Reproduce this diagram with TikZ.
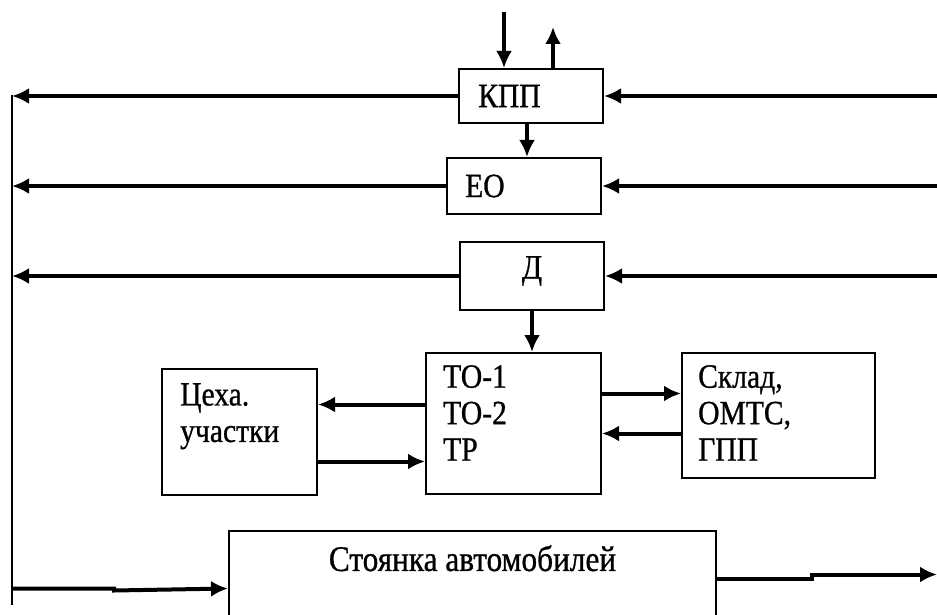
\documentclass[tikz,border=0pt]{standalone}
\usepackage{fontspec}
\setmainfont{Liberation Serif}
\newfontfamily\tnr{Liberation Serif}[FakeStretch=0.87, FakeBold=0.8]
\usetikzlibrary{arrows.meta, positioning}

\tikzset{
	blok/.style={draw, line width=2pt, inner sep=0pt, anchor=north west},
	txt/.style={inner sep=0pt, font=\tnr\fontsize{34}{36.5}\selectfont, align=left},
	arr/.style={line width=4pt, -{Latex[length=17pt,width=16pt]}},
	bus/.style={line width=2.2pt}
}

\begin{document}
\begin{tikzpicture}[x=1pt,y=-1pt]
	\useasboundingbox (0,0) rectangle (937,615);
	% blocks
	\node[blok, minimum width=144pt, minimum height=54pt] (kpp) at (458,68) {};
	\node[blok, minimum width=154pt, minimum height=56pt] (eo) at (446,157) {};
	\node[blok, minimum width=144pt, minimum height=68pt] (d) at (459,241) {};
	\node[blok, minimum width=175pt, minimum height=141pt] (to) at (425,352) {};
	\node[blok, minimum width=155pt, minimum height=126pt] (ceh) at (161,368) {};
	\node[blok, minimum width=193pt, minimum height=125pt] (sklad) at (681,352) {};
	\node[blok, minimum width=487pt, minimum height=95pt] (stoyanka) at (228,530) {};
	% texts
	\node[txt, right=20pt of kpp.west] {КПП};
	\node[txt, right=19pt of eo.west] {ЕО};
	\node[txt] at ([yshift=5pt]d.center) {Д};
	\node[txt, below right=13pt and 18pt of to.north west] {ТО-1\\ТО-2\\ТР};
	\node[txt, below right=15pt and 19pt of ceh.north west] {Цеха.\\участки};
	\node[txt, below right=13pt and 17pt of sklad.north west] {Склад,\\ОМТС,\\ГПП};
	\node[txt, font=\tnr\fontsize{36}{40}\selectfont, below=15pt of stoyanka.north] {Стоянка автомобилей};
	% left bus and right edge
	\coordinate (lt) at (12,95);
	\coordinate (lb) at (12,605);
	\coordinate (re) at (937,0);
	\draw[bus] (lt) -- (lb);
	% top of КПП
	\coordinate (vhod) at (504,12);
	\coordinate (vyhod) at (553,27);
	\draw[arr] (vhod) -- (vhod |- kpp.north);
	\draw[arr] (vyhod |- kpp.north) -- (vyhod);
	% rows to the left bus and from the right
	\foreach \b in {kpp, eo, d} {
		\draw[arr] (\b.west) -- (\b.west -| lt);
		\draw[arr] (\b.east -| re) -- (\b.east);
	}
	% chain down
	\coordinate (k1) at ([xshift=-4pt]kpp.south);
	\draw[arr] (k1) -- (k1 |- eo.north);
	\draw[arr] (d.south) -- (d.south |- to.north);
	% ТО and Цеха
	\coordinate (t1) at ([yshift=19pt]to.west);
	\coordinate (t2) at ([yshift=-38pt]to.west);
	\draw[arr] (t1) -- (t1 -| ceh.east);
	\draw[arr] (t2 -| ceh.east) -- (t2);
	% ТО and Склад
	\coordinate (t3) at ([yshift=30pt]to.east);
	\coordinate (t4) at ([yshift=-10pt]to.east);
	\draw[arr] (t3) -- (t3 -| sklad.west);
	\draw[arr] (t4 -| sklad.west) -- (t4);
	% Стоянка
	\coordinate (s1) at ([yshift=-10pt]stoyanka.west);
	\draw[arr] (s1 -| lt) -- ++(102,0) -- ++(0,2) -- (s1);
	\draw[arr] (stoyanka.east) -- ++(95,0) -- ++(0,-4) -- ([yshift=4pt]stoyanka.east -| re);
\end{tikzpicture}
\end{document}
